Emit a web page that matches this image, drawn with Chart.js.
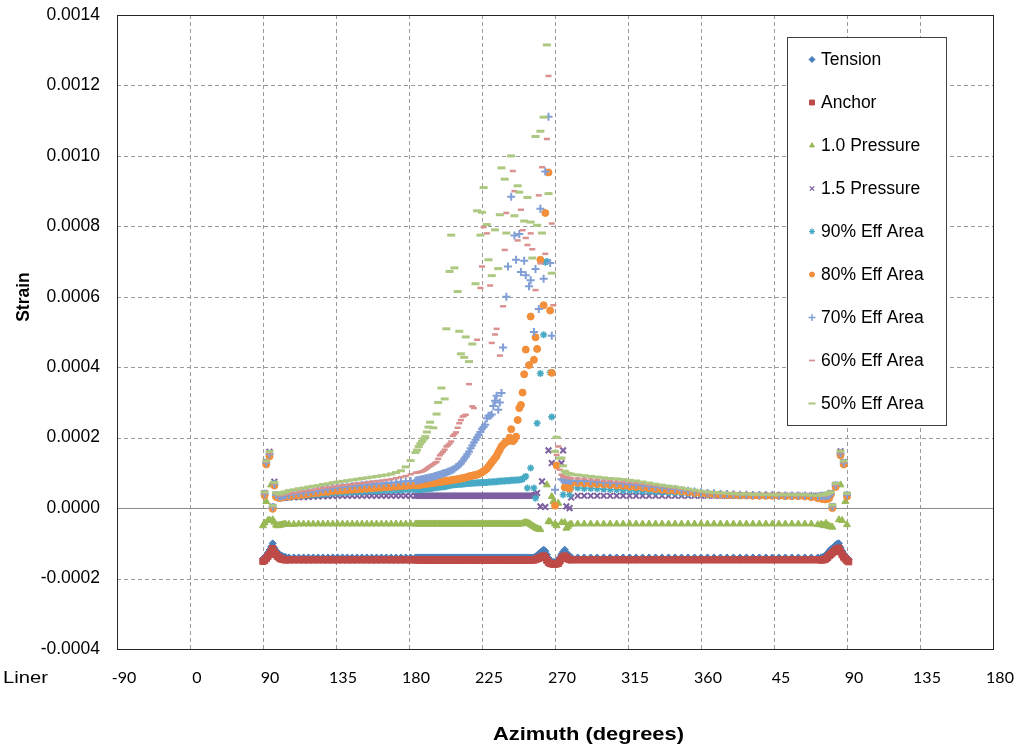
<!DOCTYPE html>
<html>
<head>
<meta charset="utf-8">
<script src="https://cdn.jsdelivr.net/npm/chart.js@4.4.1/dist/chart.umd.min.js"></script>
<style>
  html, body { margin: 0; padding: 0; background: #ffffff; }
  canvas { display: block; }
</style>
</head>
<body>
<canvas id="strainChart" width="1024" height="750"></canvas>
<script>
// Azimuth tick labels along the bottom axis (one per 45-degree grid step)
const X_TICK_LABELS = ['-90', '0', '90', '135', '180', '225', '270', '315', '360', '45', '90', '135', '180'];

// Unrolled azimuth of every gauge position (degrees, 90 .. 450)
const AZIMUTH = [
  90, 91, 92, 93, 94, 95, 96, 97, 98, 99, 100, 101, 102, 103, 104,
  106, 109, 112, 115, 118, 121, 124, 127, 130, 133, 136, 139, 142, 145, 148, 151, 154, 157, 160, 163, 166, 169, 172, 175, 178, 181,
  184, 185, 186, 187, 188, 189, 190, 191, 192, 193,
  194, 195, 196, 197, 198, 199, 200, 201, 202, 203,
  204, 205, 206, 207, 208, 209, 210, 211, 212, 213,
  214, 215, 216, 217, 218, 219, 220, 221, 222, 223,
  224, 225, 226, 227, 228, 229, 230, 231, 232, 233,
  234, 235, 236, 237, 238, 239, 240, 241, 242, 243,
  244, 245, 246, 247, 248, 249, 250, 251, 252, 253,
  254, 255, 256, 257, 258, 259, 260, 261, 262, 263,
  264, 265, 266, 267, 268, 269, 270, 271, 272, 273,
  274, 275, 276, 277, 278, 279, 280,
  284, 288, 292, 296, 300, 304, 308, 312, 316, 320, 324, 328, 332, 336, 340, 344, 348, 352, 356,
  360, 364, 368, 372, 376, 380, 384, 388, 392, 396, 400, 404, 408, 412, 416, 420, 424, 428, 432,
  434, 435, 436, 437, 438, 439, 440, 441, 442, 443, 444, 445, 446, 447, 448, 449, 450, 451
];

// Strain per load case, in microstrain (null = no reading at that azimuth)
const TENSION = [
  -144, -140, -134, -127, -119, -110, -100, -113, -121, -127, -131, -134, -136, -138, -139,
  -140, -140, -140, -140, -140, -140, -140, -140, -140, -140, -140, -140, -140, -140, -140, -140, -140, -140, -140, -140, -140, -140, -140, -140, -140, -140,
  -140, -140, -140, -140, -140, -140, -140, -140, -140, -140,
  -140, -140, -140, -140, -140, -140, -140, -140, -140, -140,
  -140, -140, -140, -140, -140, -140, -140, -140, -140, -140,
  -140, -140, -140, -140, -140, -140, -140, -140, -140, -140,
  -140, -140, -140, -140, -140, -140, -140, -140, -140, -140,
  -140, -140, -140, -140, -140, -140, -140, -140, -140, -140,
  -140, -140, -140, -140, -140, -140, -140, -140, -140, -140,
  -140, -140, -140, -140, -137, -134, -130, -126, -122, -118,
  -122, -132, -142, -150, -152, -153, -153, -152, -150, -140,
  -131, -124, -118, -126, -133, -137, -139,
  -140, -140, -140, -140, -140, -140, -140, -140, -140, -140, -140, -140, -140, -140, -140, -140, -140, -140, -140,
  -140, -140, -140, -140, -140, -140, -140, -140, -140, -140, -140, -140, -140, -140, -140, -140, -140, -140, -140,
  -140, -139, -137, -133, -128, -122, -117, -113, -109, -105, -101, -100, -112, -122, -130, -136, -141, -145
];

const ANCHOR = [
  -151, -148, -143, -137, -131, -124, -115, -125, -132, -137, -141, -144, -145, -146, -147,
  -147, -147, -147, -147, -147, -147, -147, -147, -147, -147, -147, -147, -147, -147, -147, -147, -147, -147, -147, -147, -147, -147, -147, -147, -147, -147,
  -147, -147, -147, -147, -147, -147, -147, -147, -147, -147,
  -147, -147, -147, -147, -147, -147, -147, -147, -147, -147,
  -147, -147, -147, -147, -147, -147, -147, -147, -147, -147,
  -147, -147, -147, -147, -147, -147, -147, -147, -147, -147,
  -147, -147, -147, -147, -147, -147, -147, -147, -147, -147,
  -147, -147, -147, -147, -147, -147, -147, -147, -147, -147,
  -147, -147, -147, -147, -147, -147, -147, -147, -147, -147,
  -147, -147, -147, -147, -146, -144, -142, -140, -138, -136,
  -140, -148, -154, -157, -158, -159, -159, -158, -157, -150,
  -143, -139, -136, -140, -144, -146, -147,
  -147, -147, -147, -147, -147, -147, -147, -147, -147, -147, -147, -147, -147, -147, -147, -147, -147, -147, -147,
  -147, -147, -147, -147, -147, -147, -147, -147, -147, -147, -147, -147, -147, -147, -147, -147, -147, -147, -147,
  -147, -147, -146, -144, -140, -135, -131, -127, -123, -119, -115, -114, -124, -132, -139, -144, -149, -152
];

const PRESSURE_1_0 = [
  -50, -42, 19, -35, -34, 66, -33, -40, -48, -50, -49, -48, -47, -46, -46,
  -46, -46, -45, -45, -45, -45, -45, -45, -45, -45, -45, -45, -45, -45, -45, -45, -45, -45, -45, -45, -45, -45, -45, -45, -45, -45,
  -45, -45, -45, -45, -45, -45, -45, -45, -45, -45,
  -45, -45, -45, -45, -45, -45, -45, -45, -45, -45,
  -45, -45, -45, -45, -45, -45, -45, -45, -45, -45,
  -45, -45, -45, -45, -45, -45, -45, -45, -45, -45,
  -45, -45, -45, -45, -45, -45, -45, -45, -45, -45,
  -45, -45, -45, -45, -45, -45, -45, -45, -45, -45,
  -45, -45, -45, -45, -45, -45, -44, -42, -41, -42,
  -44, -47, -50, -53, -56, -58, -60, -61, null, null,
  null, 66, -38, -39, 33, 19, -45, -50, 14, null,
  -41, null, -41, -57, -52, -47, -45,
  -45, -45, -45, -45, -45, -45, -45, -45, -45, -45, -45, -45, -45, -45, -45, -45, -45, -45, -45,
  -45, -45, -45, -45, -45, -45, -45, -45, -45, -45, -45, -45, -45, -45, -45, -45, -45, -45, -47,
  -46, -48, -50, -43, -48, -52, -53, -54, null, null, null, -33, 66, -35, null, 19, -47, null
];

const PRESSURE_1_5 = [
  null, 43, 131, null, 160, null, 4, 75, 38, null, 28, 29, 29, 30, 30,
  30, 31, 31, 32, 32, 33, 33, 34, 34, 35, 35, 35, 35, 35, 35, 35, 35, 35, 35, 35, 35, 35, 35, 35, 35, 35,
  35, 35, 35, 35, 35, 35, 35, 35, 35, 35,
  35, 35, 35, 35, 35, 35, 35, 35, 35, 35,
  35, 35, 35, 35, 35, 35, 35, 35, 35, 35,
  35, 35, 35, 35, 35, 35, 35, 35, 35, 35,
  35, 35, 35, 35, 35, 35, 35, 35, 35, 35,
  35, 35, 35, 35, 35, 35, 35, 35, 35, 35,
  35, 35, 35, 35, 35, 35, 35, 35, 35, 35,
  35, 35, 35, 36, 38, 43, null, 5, 76, null,
  3, null, 164, null, 128, null, null, null, null, null,
  128, 164, null, 5, null, 0, 30,
  35, 35, 35, 35, 35, 35, 35, 35, 35, 35, 35, 35, 35, 35, 35, 35, 35, 35, 35,
  35, 35, 35, 35, 35, 35, 35, 35, 35, 35, 35, 35, 35, 35, 35, 35, 35, 35, 35,
  35, 35, 35, 36, 36, 36, 43, 5, null, 66, null, null, 161, null, 131, null, 38, null
];

const EFF_AREA_90 = [
  null, 40, 128, null, 155, null, 3, 70, 36, null, 30, 30, 31, 31, 32,
  32, 33, 34, 35, 36, 37, 38, 39, 40, 42, 43, 44, 44, 45, 46, 46, 47, 48, 48, 49, 50, 50, 51, 51, 52, 52,
  52, 52, 52, 53, 53, 54, 54, 55, 55, 56,
  56, 57, 58, 58, 59, 59, 60, 61, 61, 62,
  63, 64, 65, 66, 66, 67, 67, 68, 68, 68,
  69, 69, 70, 70, 70, 71, 71, 71, 72, 72,
  72, 73, 73, 73, 73, 74, 74, 74, 75, 75,
  75, 76, 76, 77, 77, 77, 78, 78, 78, 79,
  79, 79, 80, 80, 80, 81, 82, 86, 90, 57,
  null, 114, null, 57, 28, 241, null, 382, null, 492,
  698, 700, null, 385, 259, null, null, null, null, null,
  null, 38, 58, 58, 57, 38, 57,
  57, 56, 56, 55, 54, 53, 52, 51, 50, 49, 48, 47, 46, 45, 44, 43, 42, 41, 40,
  39, 38, 37, 37, 36, 36, 35, 35, 35, 35, 35, 35, 34, 34, 34, 34, 34, 33, 31,
  31, 30, 30, 30, 31, 32, 40, 4, null, 64, null, null, 156, null, 129, null, 37, null
];

const EFF_AREA_80 = [
  null, 36, 124, null, 147, null, -2, 64, 32, null, 29, 30, 31, 32, 33,
  33, 35, 36, 38, 40, 42, 43, 45, 46, 48, 49, 50, 51, 52, 53, 54, 55, 56, 57, 58, 59, 60, 61, 62, 63, 64,
  65, 65, 66, 66, 67, 68, 68, 69, 70, 70,
  71, 72, 72, 73, 74, 74, 75, 76, 76, 77,
  78, 78, 79, 80, 81, 81, 82, 83, 84, 85,
  86, 87, 88, 90, 91, 92, 93, 94, 95, 97,
  99, 102, 105, 108, 112, 118, 124, 130, 136, 142,
  148, 158, 166, 175, 180, 185, 188, 190, 200, 224,
  190, 195, 203, 250, 284, 293, 328, 380, 450, null,
  406, 544, null, 421, 485, 452, null, 705, null, 576,
  838, null, 953, 561, 384, null, 7, 121, null, null,
  null, null, 59, 70, 71, 55, 71,
  71, 70, 69, 68, 67, 66, 64, 63, 61, 60, 58, 56, 54, 52, 50, 49, 47, 45, 43,
  42, 40, 39, 38, 37, 37, 36, 36, 35, 35, 35, 35, 35, 34, 34, 34, 33, 31, 28,
  27, 26, 25, 25, 26, 28, 38, 0, null, 60, null, null, 150, null, 124, null, 33, null
];

const EFF_AREA_70 = [
  null, 41, 129, null, 153, null, 3, 68, 37, null, 33, 34, 35, 36, 37,
  38, 40, 42, 44, 46, 48, 50, 52, 55, 57, 59, 60, 62, 63, 64, 66, 67, 68, 69, 70, 71, 72, 73, 75, 76, 77,
  78, 79, 80, 81, 82, 83, 84, 85, 86, 87,
  88, 89, 91, 92, 94, 95, 97, 98, 100, 101,
  103, 105, 107, 109, 112, 116, 119, 123, 127, 133,
  140, 146, 153, 160, 170, 178, 186, 194, 201, 208,
  216, 225, 230, 237, 255, 262, 262, 266, 290, 305,
  319, 279, 300, 327, 456, null, 600, 686, null, 884,
  null, 774, 705, null, 778, 670, null, 702, 661, null,
  630, 647, null, 500, 679, null, 565, 850, null, 651,
  956, null, 1111, 696, 489, null, 52, null, null, null,
  82, 80, 80, 79, 79, 78, 78,
  78, 77, 76, 75, 73, 72, 71, 69, 68, 66, 64, 62, 60, 58, 56, 54, 51, 49, 47,
  45, 43, 42, 41, 40, 39, 38, 38, 37, 37, 37, 37, 36, 36, 36, 36, 36, 35, 34,
  35, 35, 35, 35, 36, 36, 41, 4, null, 65, null, null, 155, null, 129, null, 37, null
];

const EFF_AREA_60 = [
  null, 43, 131, null, 156, null, 5, 70, 40, null, 36, 37, 38, 39, 40,
  41, 43, 46, 48, 50, 52, 55, 57, 59, 61, 63, 65, 66, 68, 70, 71, 73, 75, 76, 78, 80, 82, 85, 88, 91, 96,
  100, 101, 102, 103, 104, 106, 109, 112, 116, 119,
  122, 125, 128, 131, 140, 150, 155, 160, 166, 175,
  178, 183, 189, 205, 210, 215, 228, 241, 250, 260,
  262, 265, null, 352, null, 289, 284, null, 478, null,
  625, 686, 798, null, 780, null, 632, 469, null, 493,
  509, null, 433, null, 573, 733, 838, null, null, null,
  957, 900, null, 760, null, 847, 789, null, 767, 747,
  null, 780, 735, null, 619, null, 888, 695, 968, null,
  722, 1048, 1227, null, 808, 576, null, 151, 175, 109,
  95, 90, 88, 87, 86, 85, 85,
  84, 83, 81, 80, 78, 77, 75, 74, 73, 71, 69, 66, 64, 62, 59, 57, 54, 52, 49,
  47, 45, 43, 42, 41, 40, 39, 39, 38, 38, 38, 37, 37, 37, 37, 37, 37, 36, 35,
  36, 36, 36, 37, 38, 40, 43, 6, null, 67, null, null, 158, null, 131, null, 40, null
];

const EFF_AREA_50 = [
  null, 46, 134, null, 161, null, 7, 73, 43, null, 40, 42, 44, 45, 46,
  50, 52, 55, 57, 60, 62, 64, 67, 69, 72, 74, 76, 78, 80, 82, 84, 86, 88, 90, 92, 94, 97, 101, 106, 117, 135,
  158, 165, 175, 183, 189, 196, 203, 216, 230, 244,
  null, 228, null, 267, 300, null, 341, null, 310, 509,
  null, 672, 775, null, 682, null, 615, 502, 438, null,
  428, 486, null, 416, null, 466, null, 637, 844, null,
  775, 840, 910, null, 805, 705, null, 660, null, 790,
  null, 680, 833, 966, null, 934, 781, null, null, 1000,
  null, 830, null, 915, 897, null, null, 815, null, 882,
  null, 812, 710, null, 1055, 803, null, 1070, 781, 1110,
  null, 1315, 893, null, 667, null, 161, 201, null, 142,
  142, 120, 105, 100, 98, 97, 96,
  94, 92, 90, 88, 86, 84, 83, 81, 79, 77, 74, 71, 68, 65, 62, 60, 57, 54, 51,
  48, 46, 44, 43, 42, 41, 40, 40, 39, 39, 38, 38, 38, 38, 38, 38, 38, 37, 36,
  38, 38, 38, 40, 42, 44, 46, 9, null, 70, null, null, 162, null, 134, null, 42, null
];

const SERIES_NAMES = ['Tension', 'Anchor', '1.0 Pressure', '1.5 Pressure', '90% Eff Area',
  '80% Eff Area', '70% Eff Area', '60% Eff Area', '50% Eff Area'];
const SERIES_VALUES = [TENSION, ANCHOR, PRESSURE_1_0, PRESSURE_1_5, EFF_AREA_90,
  EFF_AREA_80, EFF_AREA_70, EFF_AREA_60, EFF_AREA_50];

// Marker look for each load case
const MARKERS = [
  { color: '#4A7EBB', style: 'rectRot',  radius: 3.5, width: 1,   filled: true,  legendRadius: 3 },
  { color: '#BE4B48', style: 'rect',     radius: 4.5, width: 1,   filled: true,  legendRadius: 3.5 },
  { color: '#98B954', style: 'triangle', radius: 4,   width: 1,   filled: true,  legendRadius: 2.8 },
  { color: '#7D60A0', style: 'crossRot', radius: 4,   width: 2,   filled: false, legendRadius: 3 },
  { color: '#46AAC5', style: 'star',     radius: 3.5, width: 1.6, filled: false, legendRadius: 3 },
  { color: '#F38F3A', style: 'circle',   radius: 3.5, width: 1,   filled: true,  legendRadius: 2.5 },
  { color: '#819FD6', style: 'cross',    radius: 4,   width: 2,   filled: false, legendRadius: 3.5 },
  { color: '#D9908E', style: 'line',     radius: 3,   width: 2.5, filled: false, legendRadius: 3 },
  { color: '#ADC880', style: 'line',     radius: 4,   width: 3,   filled: false, legendRadius: 3.5 }
];

const AXIS_FONT = "'Liberation Sans', Arial, sans-serif";
const X_TICK_FONT = "Lato, 'Open Sans', sans-serif";

const datasets = SERIES_NAMES.map((name, i) => {
  const m = MARKERS[i];
  return {
    label: name,
    data: AZIMUTH.map((az, j) => ({ x: az, y: SERIES_VALUES[i][j] })),
    showLine: false,
    pointStyle: m.style,
    pointRadius: m.radius,
    pointBorderWidth: m.width,
    pointBorderColor: m.color,
    pointBackgroundColor: m.filled ? m.color : 'rgba(0,0,0,0)',
    order: SERIES_NAMES.length - i
  };
});

// Draws text squeezed or stretched horizontally to a given width
function fillTextToWidth(ctx, text, cx, y, targetWidth) {
  const natural = ctx.measureText(text).width;
  ctx.save();
  ctx.translate(cx, y);
  ctx.scale(targetWidth / natural, 1);
  ctx.textAlign = 'center';
  ctx.fillText(text, 0, 0);
  ctx.restore();
}

// White page background
const pageBackground = {
  id: 'pageBackground',
  beforeDraw(chart) {
    const ctx = chart.ctx;
    ctx.save();
    ctx.fillStyle = '#ffffff';
    ctx.fillRect(0, 0, chart.width, chart.height);
    ctx.restore();
  }
};

// Dashed grid, solid zero line and the plot frame
const plotGrid = {
  id: 'plotGrid',
  beforeDatasetsDraw(chart) {
    const { ctx, chartArea: a, scales: { x, y } } = chart;
    ctx.save();
    ctx.lineWidth = 1;
    ctx.strokeStyle = '#9a9a9a';
    ctx.setLineDash([4, 3]);
    x.ticks.forEach(t => {
      const px = Math.round(x.getPixelForValue(t.value)) + 0.5;
      if (px <= a.left + 1 || px >= a.right - 1) return;
      ctx.beginPath();
      ctx.moveTo(px, a.top);
      ctx.lineTo(px, a.bottom);
      ctx.stroke();
    });
    y.ticks.forEach(t => {
      if (t.value === 0) return;
      const py = Math.round(y.getPixelForValue(t.value)) + 0.5;
      if (py <= a.top + 1 || py >= a.bottom - 1) return;
      ctx.beginPath();
      ctx.moveTo(a.left, py);
      ctx.lineTo(a.right, py);
      ctx.stroke();
    });
    ctx.setLineDash([]);
    ctx.strokeStyle = '#8c8c8c';
    const zy = Math.round(y.getPixelForValue(0)) + 0.5;
    ctx.beginPath();
    ctx.moveTo(a.left, zy);
    ctx.lineTo(a.right, zy);
    ctx.stroke();
    ctx.restore();
  },
  afterDatasetsDraw(chart) {
    const { ctx, chartArea: a } = chart;
    ctx.save();
    ctx.strokeStyle = '#262626';
    ctx.lineWidth = 1;
    ctx.strokeRect(Math.round(a.left) + 0.5, Math.round(a.top) + 0.5,
      Math.round(a.right - a.left), Math.round(a.bottom - a.top));
    ctx.restore();
  }
};

// Axis titles, the "Liner" row caption and the boxed legend
const annotations = {
  id: 'annotations',
  afterDraw(chart) {
    const { ctx, chartArea: a } = chart;
    ctx.save();
    ctx.fillStyle = '#000000';
    ctx.textBaseline = 'alphabetic';

    ctx.font = "bold 19px " + AXIS_FONT;
    fillTextToWidth(ctx, 'Azimuth (degrees)', 588.5, 740, 191);

    ctx.save();
    ctx.translate(29, 297);
    ctx.rotate(-Math.PI / 2);
    ctx.textAlign = 'center';
    ctx.font = "bold 17.5px " + AXIS_FONT;
    ctx.fillText('Strain', 0, 0);
    ctx.restore();

    ctx.font = "16.5px " + AXIS_FONT;
    fillTextToWidth(ctx, 'Liner', 25.5, a.bottom + 34, 45);

    // legend
    const box = { x: 787.5, y: 37.5, w: 159, h: 388 };
    ctx.fillStyle = '#ffffff';
    ctx.fillRect(box.x, box.y, box.w, box.h);
    ctx.strokeStyle = '#404040';
    ctx.lineWidth = 1;
    ctx.strokeRect(box.x, box.y, box.w, box.h);
    ctx.font = "17.5px " + AXIS_FONT;
    ctx.textAlign = 'left';
    ctx.textBaseline = 'middle';
    SERIES_NAMES.forEach((name, i) => {
      const m = MARKERS[i];
      const cy = 59.5 + 43 * i;
      ctx.fillStyle = m.color;
      ctx.strokeStyle = m.color;
      if (Chart.helpers && Chart.helpers.drawPoint) {
        ctx.lineWidth = m.filled ? 1 : Math.max(1.2, m.width * 0.7);
        Chart.helpers.drawPoint(ctx, {
          pointStyle: m.style, rotation: 0, radius: m.legendRadius,
          borderWidth: ctx.lineWidth
        }, 812, cy);
      }
      ctx.fillStyle = '#000000';
      ctx.fillText(name, 821, cy + 0.5);
    });
    ctx.restore();
  }
};

new Chart(document.getElementById('strainChart'), {
  type: 'scatter',
  data: { datasets },
  plugins: [pageBackground, plotGrid, annotations],
  options: {
    responsive: false,
    animation: false,
    events: [],
    devicePixelRatio: 1,
    layout: { padding: { left: 0, right: 31, top: 15, bottom: 0 } },
    plugins: { legend: { display: false }, tooltip: { enabled: false } },
    scales: {
      x: {
        type: 'linear',
        min: 0,
        max: 540,
        grid: { display: false, drawTicks: false },
        border: { display: false },
        afterFit(scale) {
          scale.height = 101;
          scale.paddingLeft = 0;
          scale.paddingRight = 0;
        },
        afterBuildTicks(scale) {
          scale.ticks = X_TICK_LABELS.map((_, k) => ({ value: k * 45 }));
        },
        ticks: {
          autoSkip: false,
          maxRotation: 0,
          padding: 19,
          labelOffset: 7,
          color: '#000000',
          font: { family: X_TICK_FONT, size: 16 },
          callback: (value, index) => X_TICK_LABELS[index]
        }
      },
      y: {
        type: 'linear',
        min: -400,
        max: 1400,
        grid: { display: false, drawTicks: false },
        border: { display: false },
        afterFit(scale) {
          scale.width = 117;
          scale.paddingTop = 0;
          scale.paddingBottom = 0;
        },
        ticks: {
          stepSize: 200,
          padding: 17,
          color: '#000000',
          font: { family: AXIS_FONT, size: 17.5 },
          callback: (value) => (value / 1e6).toFixed(4)
        }
      }
    }
  }
});
</script>
</body>
</html>
